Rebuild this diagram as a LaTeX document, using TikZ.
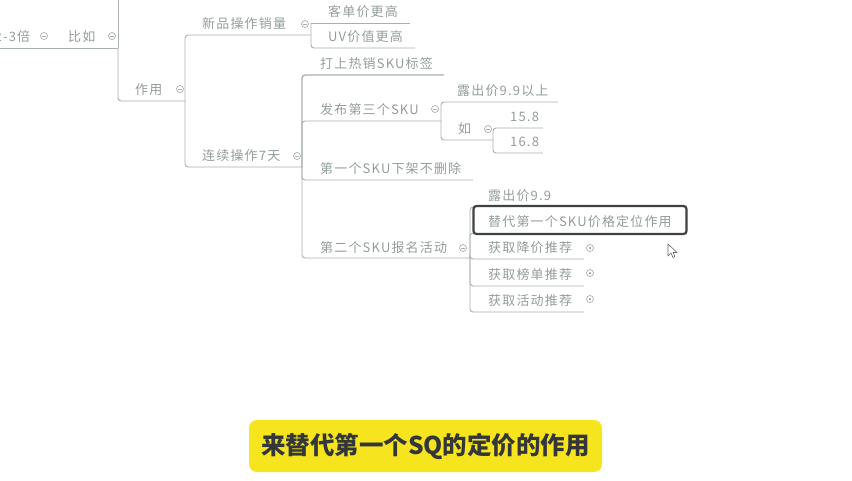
\documentclass[tikz,border=0pt]{standalone}
\usepackage{fontspec}
\setmainfont{Noto Sans CJK SC}
\newfontfamily\cjktopic[LetterSpace=9]{Noto Sans CJK SC}
\newfontfamily\capfont{Noto Sans CJK SC}
\definecolor{linec}{HTML}{A7B0AE}
\definecolor{textc}{HTML}{939D9B}
\definecolor{boxc}{HTML}{3E4244}
\definecolor{capy}{HTML}{F6E51E}
\definecolor{capt}{HTML}{34373A}
\begin{document}
\begin{tikzpicture}[x=1pt,y=-1pt,
  topic/.style={anchor=base west, inner sep=0pt, font=\cjktopic\fontsize{13}{15}\selectfont, text=textc},
  edge/.style={draw=linec, line width=0.9pt, rounded corners=3pt},
  foldc/.style={draw=linec, line width=0.7pt, fill=white, circle, minimum size=7pt, inner sep=0pt,
    path picture={\draw[linec, line width=0.6pt] ([xshift=-2pt]path picture bounding box.center) -- ([xshift=2pt]path picture bounding box.center);}},
  expandc/.style={draw=linec, line width=0.7pt, fill=white, circle, minimum size=7pt, inner sep=0pt,
    path picture={\fill[linec!70!black] (path picture bounding box.center) circle (1pt);}},
  selbox/.style={draw=boxc, line width=2.2pt, rounded corners=3pt, fill=white, minimum width=213pt, minimum height=28pt, inner sep=0pt},
  capbox/.style={fill=capy, rounded corners=8pt, minimum width=353pt, minimum height=52pt, inner sep=0pt,
    font=\capfont\bfseries\fontsize{24.5}{28}\selectfont, text=capt}
]
\useasboundingbox (0,0) rectangle (852,480);

% ---------- junction and end coordinates ----------
\coordinate (lft) at (-2,48);
\coordinate (j0) at (55,48);
\coordinate (j1) at (118,48);
\coordinate (top1) at (118,-3);
\coordinate (zy-e) at (185,101);
\coordinate (j2) at (185,101);
\coordinate (xp-e) at (311,35);
\coordinate (j3) at (311,23);
\coordinate (kd-e) at (410,23);
\coordinate (uv-e) at (415,48);
\coordinate (lx-e) at (302,167);
\coordinate (j6) at (302,167);
\coordinate (rx-e) at (444,75);
\coordinate (fb-e) at (441,121);
\coordinate (j4) at (441,121);
\coordinate (lc-e) at (558,102);
\coordinate (ru-e) at (493,140);
\coordinate (j5) at (493,140);
\coordinate (a158-e) at (543,128);
\coordinate (a168-e) at (543,153);
\coordinate (dy-e) at (473,180);
\coordinate (de-e) at (470,258);
\coordinate (j7) at (470,258);
\coordinate (lp-e) at (557,207);
\coordinate (td-e) at (687,233);
\coordinate (hj-e) at (584,259);
\coordinate (hb-e) at (584,286);
\coordinate (hh-e) at (584,312);

% ---------- connectors ----------
\draw[edge] (lft) -- (j0);
\draw[edge] (j0) -- (j1);
\draw[edge] (j1) -- (top1);
\draw[edge] (j1) |- (zy-e);
\draw[edge] (j2) |- (xp-e);
\draw[edge] (j2) |- (lx-e);
\draw[edge] (j3) -- (kd-e);
\draw[edge] (j3) |- (uv-e);
\draw[edge, line width=1.3pt] (j6) |- (rx-e);
\draw[edge] (j6) |- (fb-e);
\draw[edge] (j6) |- (dy-e);
\draw[edge] (j6) |- (de-e);
\draw[edge] (j4) |- (lc-e);
\draw[edge] (j4) |- (ru-e);
\draw[edge] (j5) |- (a158-e);
\draw[edge] (j5) |- (a168-e);
\draw[edge] (j7) |- (lp-e);
\draw[edge] (j7) |- (td-e);
\draw[edge] (j7) |- (hj-e);
\draw[edge] (j7) |- (hb-e);
\draw[edge] (j7) |- (hh-e);

% ---------- selected box ----------
\node[selbox] (tdbox) at (580,220) {};

% ---------- topics ----------
\node[topic] (t23) at (-5.5,41) {2-3倍};
\node[topic] (bru) at (68,41) {比如};
\node[topic] (zy) at (135,94) {作用};
\node[topic] (xp) at (202,28) {新品操作销量};
\node[topic] (kd) at (328,16) {客单价更高};
\node[topic] (uv) at (328,41) {UV价值更高};
\node[topic] (lx) at (202,160) {连续操作7天};
\node[topic] (rx) at (320,68) {打上热销SKU标签};
\node[topic] (fb) at (320,114) {发布第三个SKU};
\node[topic] (lc) at (457,95) {露出价9.9以上};
\node[topic] (ru) at (458,133) {如};
\node[topic] (a158) at (510,121) {15.8};
\node[topic] (a168) at (510,146) {16.8};
\node[topic] (dy) at (320,173) {第一个SKU下架不删除};
\node[topic] (de) at (320,252) {第二个SKU报名活动};
\node[topic] (lp) at (488,200) {露出价9.9};
\node[topic] (td) at (488,226) {替代第一个SKU价格定位作用};
\node[topic] (hj) at (488,252) {获取降价推荐};
\node[topic] (hb) at (488,279) {获取榜单推荐};
\node[topic] (hh) at (488,305) {获取活动推荐};

% ---------- fold markers ----------
\node[foldc] (c23) at (44,36) {};
\node[foldc] (cbr) at (112,36) {};
\node[foldc] (czy) at (180,89) {};
\node[foldc] (cxp) at (305,24) {};
\node[foldc] (clx) at (297,156) {};
\node[foldc] (cfb) at (435,109) {};
\node[foldc] (cru) at (488,129) {};
\node[foldc] (cde) at (463,248) {};
\node[expandc] (chj) at (590,248) {};
\node[expandc] (chb) at (590,273) {};
\node[expandc] (chh) at (590,299) {};

% ---------- mouse pointer ----------
\draw[draw=gray!80!black, fill=white, line width=0.6pt, line join=round]
  (668,244) -- (668,256) -- (671,253) -- (673,257.5) -- (675,256.5) -- (673,252.5) -- (677,252.5) -- cycle;

% ---------- caption ----------
\node[capbox] (cap) at (425.5,446) {来替代第一个SQ的定价的作用};
\end{tikzpicture}
\end{document}
